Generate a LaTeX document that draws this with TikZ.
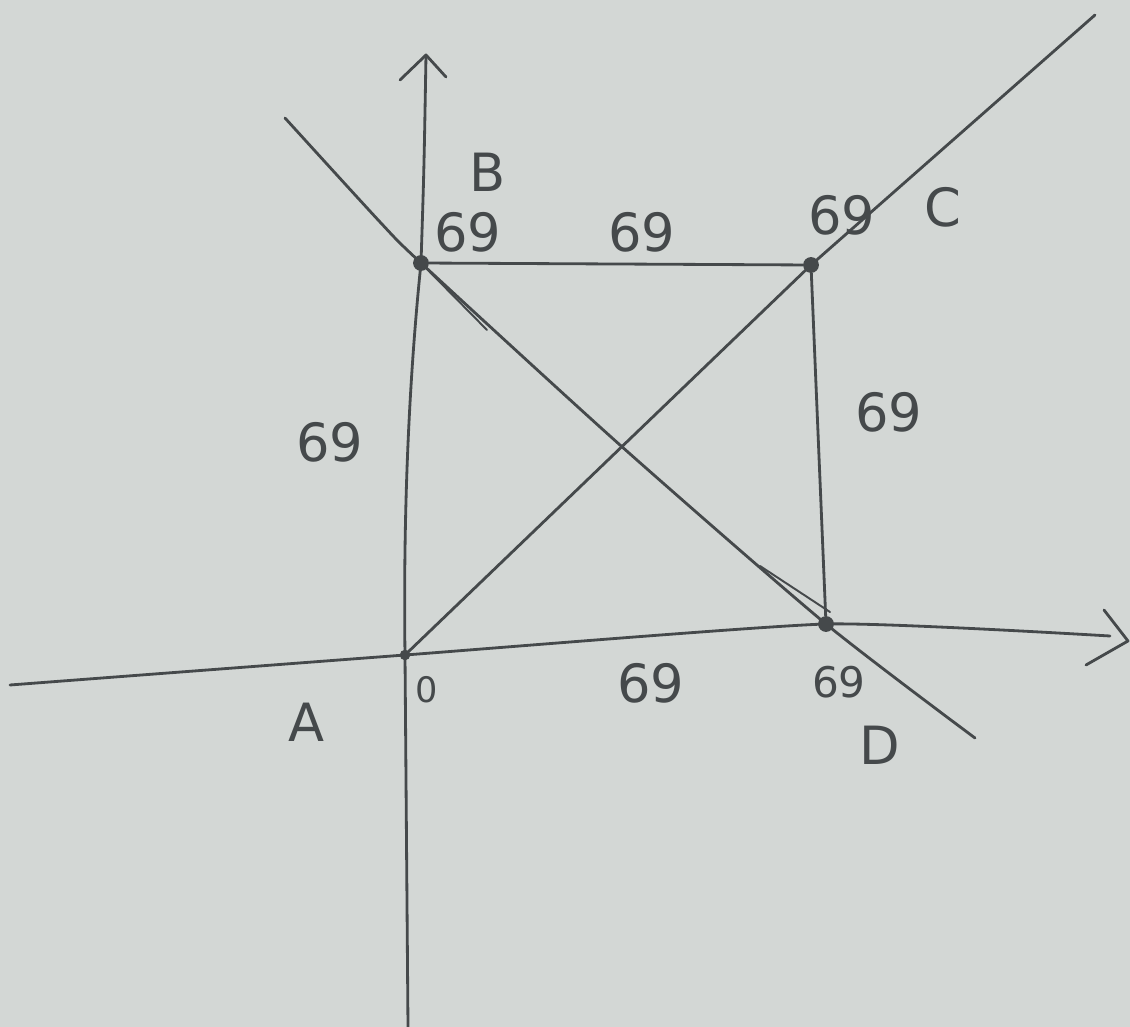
\documentclass[tikz,border=0pt]{standalone}
\usepackage{fontspec}
\setmainfont{DejaVu Sans}
\begin{document}
\begin{tikzpicture}[x=0.02cm,y=-0.02cm,
  pen/.style={draw=ink,line width=1.6pt,line cap=round,line join=round},
  lbl/.style={text=ink,font=\fontsize{30}{34}\selectfont,inner sep=0pt},
  dotp/.style={fill=ink,circle,inner sep=0pt,minimum size=9pt}]
\definecolor{ink}{HTML}{45494B}
\definecolor{paper}{HTML}{D3D7D5}
\fill[paper] (0,0) rectangle (1130,1027);
\useasboundingbox (0,0) rectangle (1130,1027);
% points
\node[dotp,minimum size=6pt] (A) at (405,655) {};
\node[dotp] (B) at (421,263) {};
\node[dotp] (C) at (811,265) {};
\node[dotp] (D) at (826,624) {};
\coordinate (xl) at (10,685);
\coordinate (xr) at (1110,636);
\coordinate (yb) at (408,1027);
\coordinate (yt) at (426,55);
\coordinate (bdl) at (285,118);
\coordinate (bdr) at (975,738);
\coordinate (acr) at (1095,15);
% axes
\draw[pen] plot[smooth,tension=0.3] coordinates {(xl) (A.center) (D.center) (xr)};
\draw[pen] (yb) -- (A.center) .. controls (403,500) and (410,370) .. (B.center) .. controls (424,170) .. (yt);
\draw[pen] (1104,610) -- (1128,641) -- (1086,665);
\draw[pen] (400,80) -- (yt) -- (446,77);
% rectangle sides
\draw[pen] (B) -- (C) -- (D);
% diagonals
\draw[pen] (A.center) -- (C.center) -- (acr);
\draw[pen] plot[smooth,tension=0.4] coordinates {(bdl) (380,222) (B.center) (620,445) (D.center) (bdr)};
\draw[pen,line width=1.1pt] (B.center) -- (487,330);
\draw[pen,line width=1.1pt] (760,566) -- (830,612);
% labels
\node[lbl] (lB) at (488,172) {B};
\node[lbl] (lBn) at (468,232) {69};
\node[lbl] (lt) at (642,232) {69};
\node[lbl] (lCn) at (842,215) {69};
\node[lbl] (lC) at (943,207) {C};
\node[lbl] (lr) at (889,412) {69};
\node[lbl] (ll) at (330,442) {69};
\node[lbl,font=\fontsize{20}{24}\selectfont] (lO) at (427,690) {0};
\node[lbl] (lA) at (307,722) {A};
\node[lbl] (lb) at (651,683) {69};
\node[lbl,font=\fontsize{24}{28}\selectfont] (lDn) at (839,682) {69};
\node[lbl] (lD) at (880,745) {D};
\end{tikzpicture}
\end{document}
